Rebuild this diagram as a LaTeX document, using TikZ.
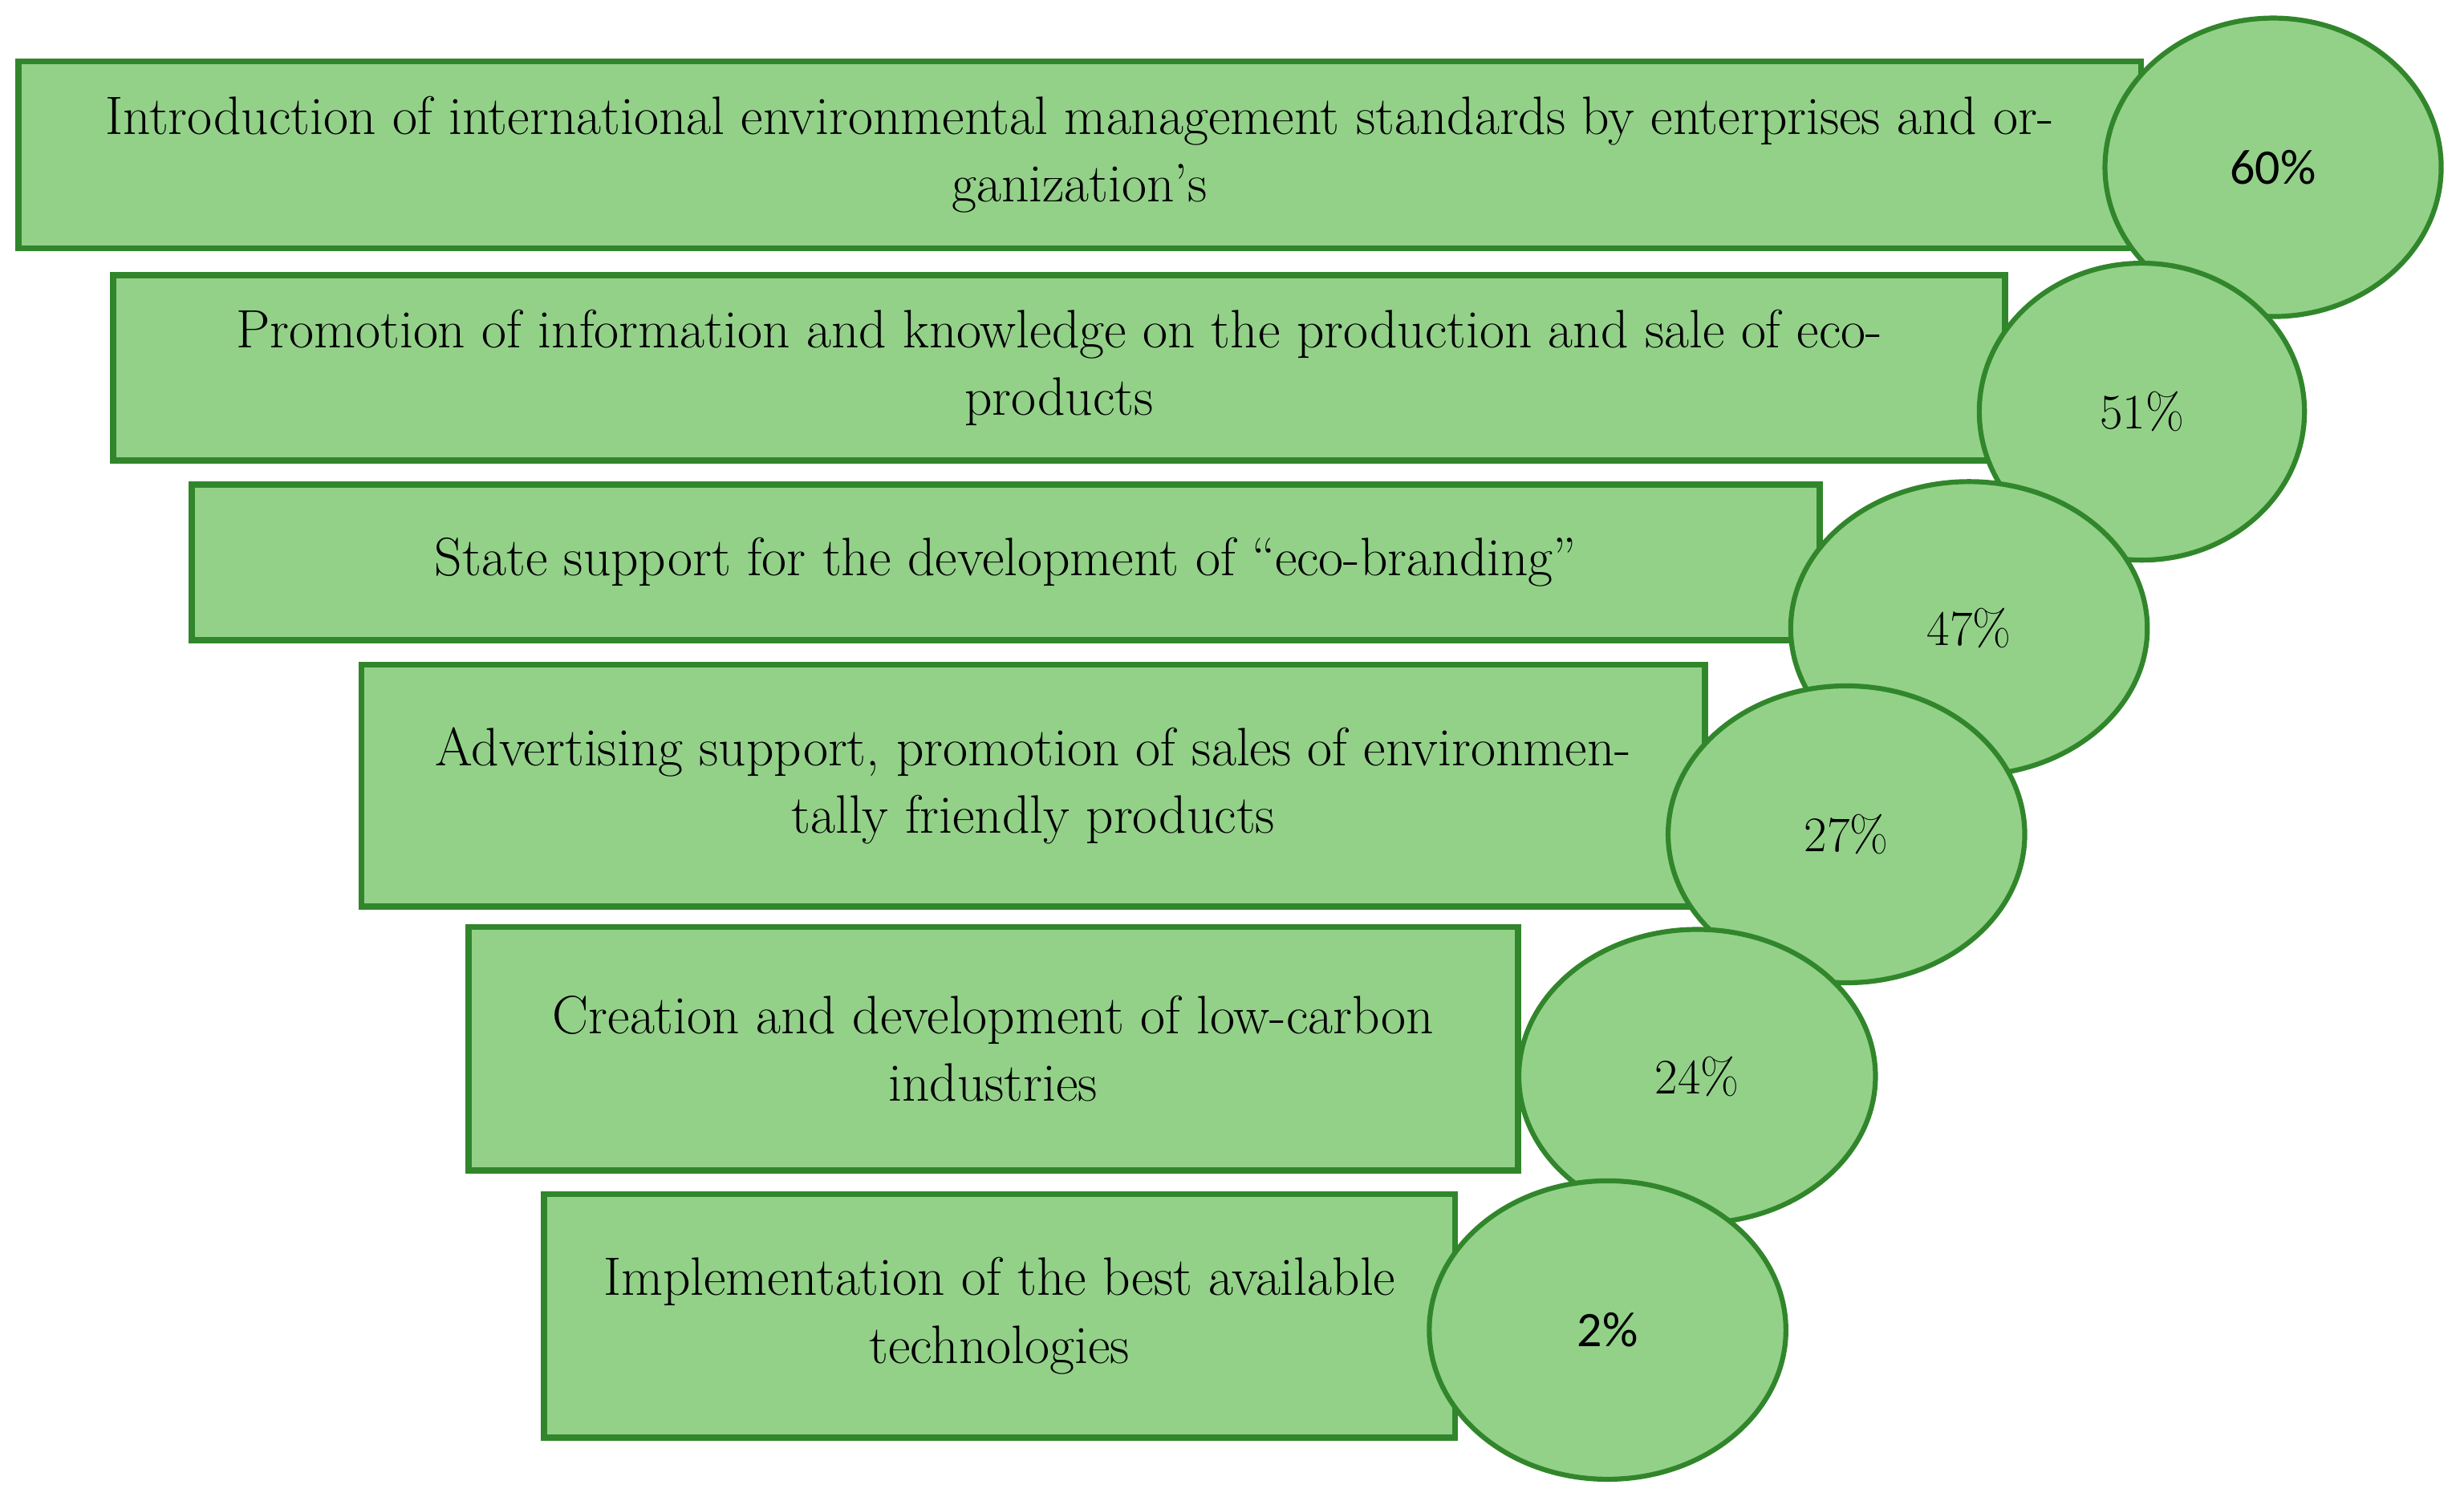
\documentclass[tikz,border=0pt]{standalone}
\usepackage{fontspec}
\newfontfamily\pctfont{Carlito}
\usetikzlibrary{shapes.geometric}
\definecolor{leaf}{HTML}{93D189}
\definecolor{leafdark}{HTML}{31862B}
\begin{document}
\begin{tikzpicture}[x=0.02cm,y=-0.02cm]
\tikzstyle{box}=[draw=leafdark,fill=leaf,line width=2.2pt,shape=rectangle,align=center,inner sep=0pt,font=\fontsize{19.6}{24.5}\selectfont]
\tikzstyle{share}=[draw=leafdark,fill=leaf,line width=1.8pt,shape=ellipse,inner sep=0pt,font=\fontsize{18}{20}\selectfont]
\useasboundingbox (0,0) rectangle (1568,955);

\node[box,minimum width=27.02cm,minimum height=2.38cm] at (687,98.5) (b1)
  {Introduction of international environmental management standards by enterprises and or-\\ganization’s};
\node[share,minimum width=4.28cm,minimum height=3.8cm] at (1446.5,106.5) (e1) {\pctfont 60\%};

\node[box,minimum width=24.08cm,minimum height=2.36cm] at (674,234) (b2)
  {Promotion of information and knowledge on the production and sale of eco-\\products};
\node[share,minimum width=4.14cm,minimum height=3.78cm] at (1363,262) (e2) {51\%};

\node[box,minimum width=20.72cm,minimum height=1.98cm] at (640,358) (b3)
  {State support for the development of “eco-branding”};
\node[share,minimum width=4.54cm,minimum height=3.74cm] at (1253,400) (e3) {47\%};

\node[box,minimum width=17.1cm,minimum height=3.08cm] at (657.5,500) (b4)
  {Advertising support, promotion of sales of environmen-\\tally friendly products};
\node[share,minimum width=4.54cm,minimum height=3.78cm] at (1175,531) (e4) {27\%};

\node[box,minimum width=13.36cm,minimum height=3.1cm] at (632,667.5) (b5)
  {Creation and development of low-carbon\\industries};
\node[share,minimum width=4.54cm,minimum height=3.74cm] at (1080,685) (e5) {24\%};

\node[box,minimum width=11.6cm,minimum height=3.1cm] at (636,837.5) (b6)
  {Implementation of the best available\\technologies};
\node[share,minimum width=4.54cm,minimum height=3.8cm] at (1023,846.5) (e6) {\pctfont 2\%};
\end{tikzpicture}
\end{document}
